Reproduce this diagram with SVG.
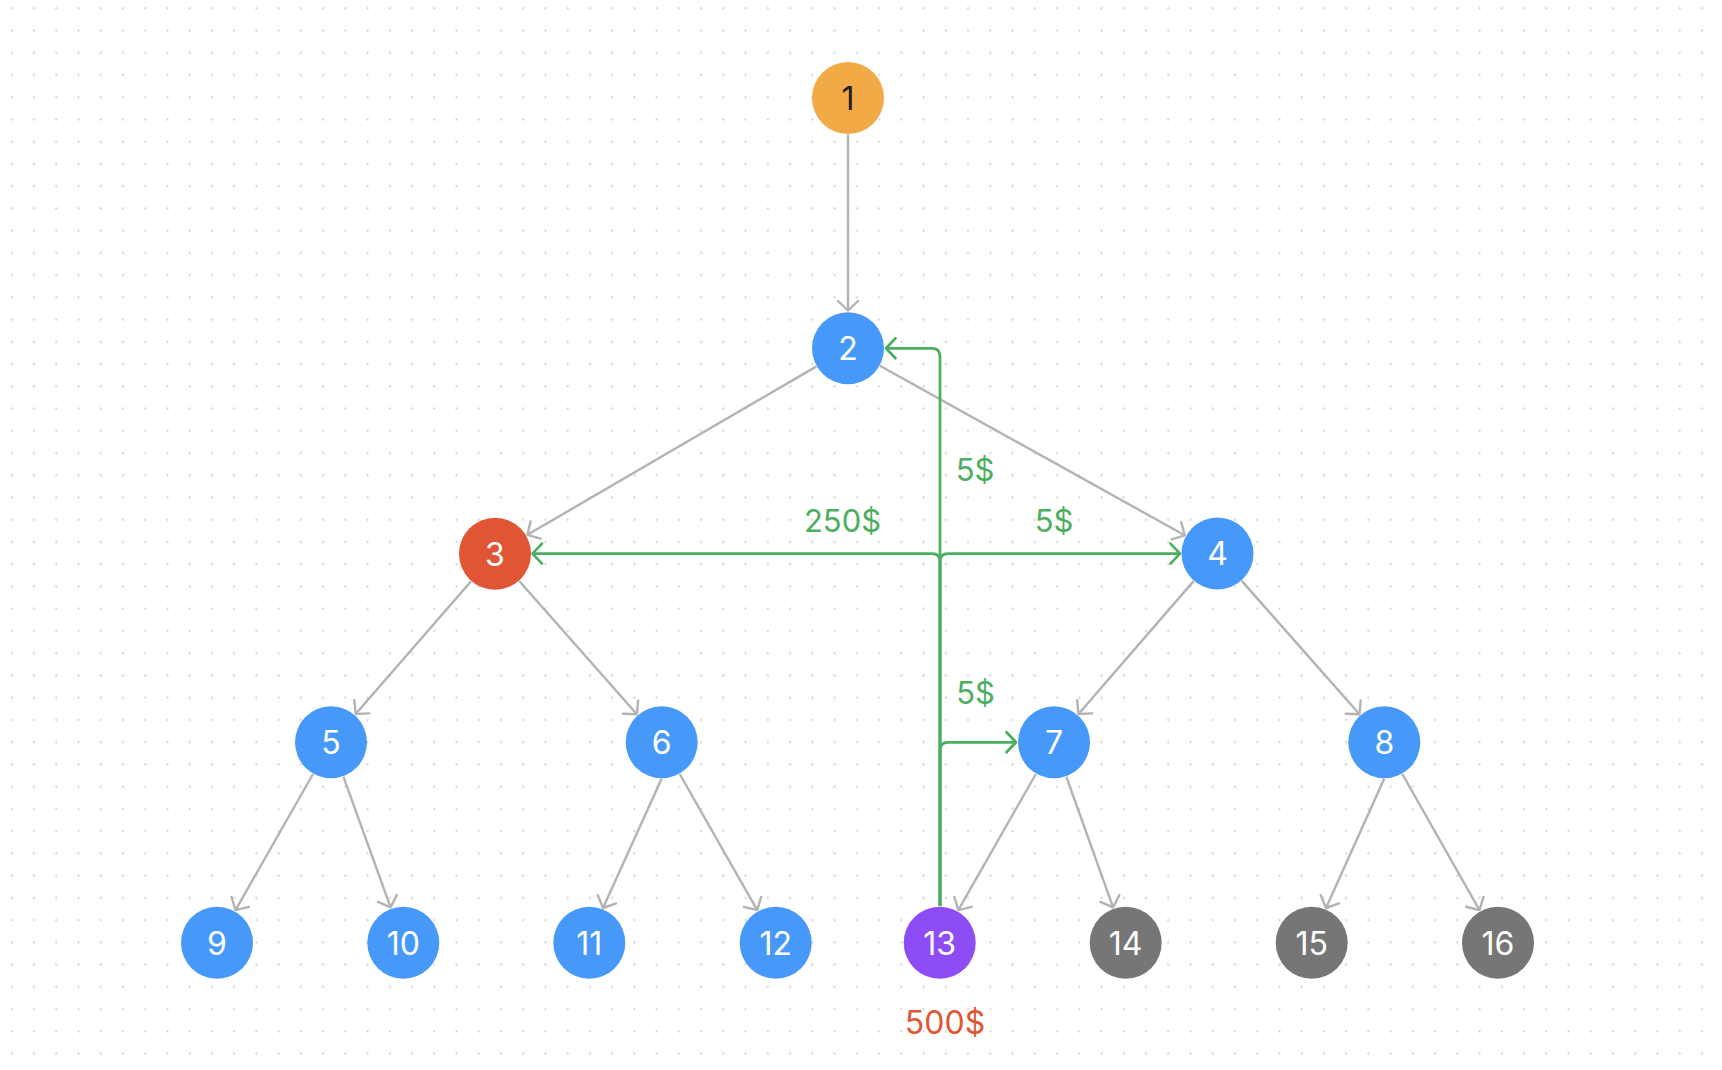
<svg xmlns="http://www.w3.org/2000/svg" width="1722" height="1070" viewBox="0 0 1722 1070">
<style>
.edge{fill:none;stroke:#b3b3b3;stroke-width:2.4;marker-end:url(#ag)}
.flow{fill:none;stroke:#4cae60;stroke-width:2.7;marker-end:url(#agr)}
.n{font-family:Inter,"Liberation Sans",sans-serif;font-size:32px;text-anchor:middle;fill:#ffffff}
.lbl{font-family:Inter,"Liberation Sans",sans-serif;font-size:31px;text-anchor:middle;fill:#4cae60}
.blue{fill:#4699f8}
.gray{fill:#767676}
</style>
<defs>
<pattern id="dots" patternUnits="userSpaceOnUse" x="0.6" y="-2.8" width="22.24" height="22.24">
<circle cx="11.12" cy="11.12" r="1.1" fill="#cfcfcf"/>
</pattern>
<marker id="ag" markerUnits="userSpaceOnUse" viewBox="-12 -12 14 24" markerWidth="14" markerHeight="24" refX="0" refY="0" orient="auto" overflow="visible">
<path d="M-9.5,-10 L0,0 L-9.5,10" fill="none" stroke="#b3b3b3" stroke-width="2.4" stroke-linecap="round" stroke-linejoin="round"/>
</marker>
<marker id="agr" markerUnits="userSpaceOnUse" viewBox="-12 -12 14 24" markerWidth="14" markerHeight="24" refX="0" refY="0" orient="auto" overflow="visible">
<path d="M-9.5,-10 L0,0 L-9.5,10" fill="none" stroke="#4cae60" stroke-width="2.7" stroke-linecap="round" stroke-linejoin="round"/>
</marker>
</defs>
<rect width="1722" height="1070" fill="#ffffff"/>
<rect width="1722" height="1070" fill="url(#dots)"/>

<g id="connectors">
<path class="edge" d="M848,134.5 L848,310.5"/>
<path class="edge" d="M816.5,366.4 L527.4,534.8"/>
<path class="edge" d="M879.9,365.7 L1184.7,535.3"/>
<path class="edge" d="M471.1,581.3 L355.6,714"/>
<path class="edge" d="M519.2,581 L636.9,714.2"/>
<path class="edge" d="M1193.6,581.1 L1078.5,714"/>
<path class="edge" d="M1241.7,580.9 L1359.5,714.2"/>
<path class="edge" d="M313,774 L235.5,910.1"/>
<path class="edge" d="M343.4,776.6 L390.6,907.4"/>
<path class="edge" d="M661.7,778.5 L603,908"/>
<path class="edge" d="M679.7,774 L757.2,910.1"/>
<path class="edge" d="M1035.9,774 L958.3,910.1"/>
<path class="edge" d="M1066.3,776.7 L1113.1,907.4"/>
<path class="edge" d="M1384.3,778.5 L1326,908"/>
<path class="edge" d="M1402.3,774 L1479.5,910.1"/>

<path class="flow" d="M940,906 V356.3 Q940,348.3 932,348.3 H886"/>
<path class="flow" d="M940,906 V561.6 Q940,553.6 932,553.6 H532.5"/>
<path class="flow" d="M940,906 V561.6 Q940,553.6 948,553.6 H1180"/>
<path class="flow" d="M940,906 V750.3 Q940,742.3 948,742.3 H1016"/>

<text class="lbl" x="975" y="481">5$</text>
<text class="lbl" x="842.5" y="531.5">250$</text>
<text class="lbl" x="1054" y="531.5">5$</text>
<text class="lbl" x="975.5" y="704">5$</text>
</g>

<g id="node1"><circle cx="848" cy="98" r="36" fill="#f2aa47"/><text class="n" x="848" y="110" style="fill:#1e1e1e">1</text></g>
<g id="node2"><circle class="blue" cx="848" cy="348.3" r="36"/><text class="n" x="848" y="360">2</text></g>
<g id="node3"><circle cx="495" cy="553.7" r="36" fill="#e05533"/><text class="n" x="495" y="565.5">3</text></g>
<g id="node4"><circle class="blue" cx="1217.5" cy="553.5" r="36"/><text class="n" x="1217.5" y="565.3">4</text></g>
<g id="node5"><circle class="blue" cx="331" cy="742.3" r="36"/><text class="n" x="331" y="754">5</text></g>
<g id="node6"><circle class="blue" cx="661.7" cy="742.3" r="36"/><text class="n" x="661.7" y="754">6</text></g>
<g id="node7"><circle class="blue" cx="1054" cy="742.3" r="36"/><text class="n" x="1054" y="754">7</text></g>
<g id="node8"><circle class="blue" cx="1384.3" cy="742.3" r="36"/><text class="n" x="1384.3" y="754">8</text></g>
<g id="node9"><circle class="blue" cx="217" cy="942.7" r="36"/><text class="n" x="217" y="954.5">9</text></g>
<g id="node10"><circle class="blue" cx="403.3" cy="942.7" r="36"/><text class="n" x="403.3" y="954.5">10</text></g>
<g id="node11"><circle class="blue" cx="589.3" cy="942.7" r="36"/><text class="n" x="589.3" y="954.5">11</text></g>
<g id="node12"><circle class="blue" cx="775.7" cy="942.7" r="36"/><text class="n" x="775.7" y="954.5">12</text></g>
<g id="node13"><circle cx="939.7" cy="942.7" r="36" fill="#8e4cf5"/><text class="n" x="939.7" y="954.5">13</text>
<text x="945" y="1034" style="font-family:Inter,'Liberation Sans',sans-serif;font-size:32px;text-anchor:middle;fill:#e05533">500$</text></g>
<g id="node14"><circle class="gray" cx="1125.7" cy="942.7" r="36"/><text class="n" x="1125.7" y="954.5">14</text></g>
<g id="node15"><circle class="gray" cx="1311.7" cy="942.7" r="36"/><text class="n" x="1311.7" y="954.5">15</text></g>
<g id="node16"><circle class="gray" cx="1498" cy="942.7" r="36"/><text class="n" x="1498" y="954.5">16</text></g>
</svg>
